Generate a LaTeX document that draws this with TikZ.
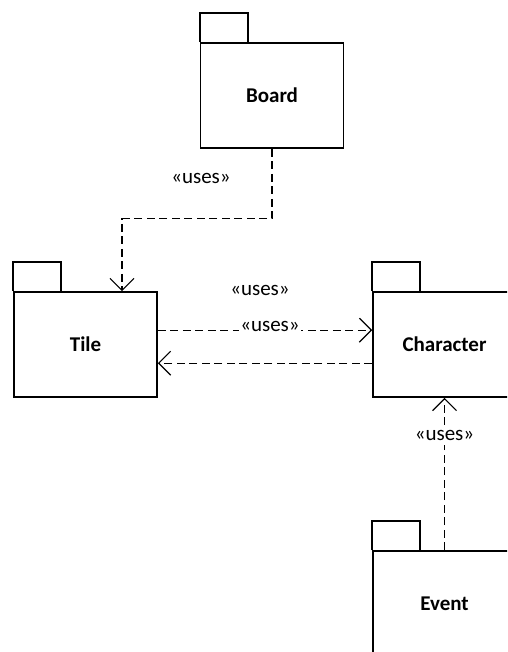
\documentclass[tikz,border=0pt]{standalone}
\usepackage{fontspec}
\setmainfont{Carlito}
\usetikzlibrary{arrows.meta}
\begin{document}
\begin{tikzpicture}[x=1pt,y=-1pt,
  pkg/.style={draw,line width=1.6pt,minimum width=143pt,minimum height=105pt,inner sep=0pt,
    font=\fontsize{21}{25}\selectfont\bfseries},
  tabbox/.style={draw,line width=1.6pt},
  dep/.style={line width=1.2pt,dash pattern=on 8pt off 4.5pt,
    -{Straight Barb[length=12pt,width=24pt,line width=1.2pt]}},
  deplabel/.style={font=\fontsize{21}{25}\selectfont,inner sep=0pt},
  lblfill/.style={deplabel,fill=white,inner xsep=1pt,inner ysep=5pt}]
\useasboundingbox (0,0) rectangle (507,652);
\clip (0,0) rectangle (507,652);
\node[pkg] (board) at (272,95.5) {Board};
\node[pkg] (tile) at (85.5,344.5) {Tile};
\node[pkg] (char) at (444.5,344.5) {Character};
\node[pkg] (event) at (444.5,603.5) {Event};
\foreach \n in {board,tile,char,event}{
  \draw[tabbox] (\n.north west) -- ++(0,-29) -- ++(48,0) -- ++(0,29);
}
% Board -> Tile
\draw[dep] (board.south) -- ++(0,70) -| ([xshift=36.5pt]tile.north);
\node[deplabel] (l1) at (201,178) {«uses»};
% Tile -> Character
\draw[dep] ([yshift=-39pt]tile.north east) -- ([yshift=-39pt]char.north west);
\node[deplabel] (l2) at (260,290) {«uses»};
\node[lblfill,anchor=base] (l3) at (270,331) {«uses»};
% Character -> Tile
\draw[dep] ([yshift=-72pt]char.north west) -- ([yshift=-72pt]tile.north east);
% Event -> Character
\draw[dep] (event.north) -- (char.south);
\node[lblfill] (l4) at (444.5,435) {«uses»};
\end{tikzpicture}
\end{document}
